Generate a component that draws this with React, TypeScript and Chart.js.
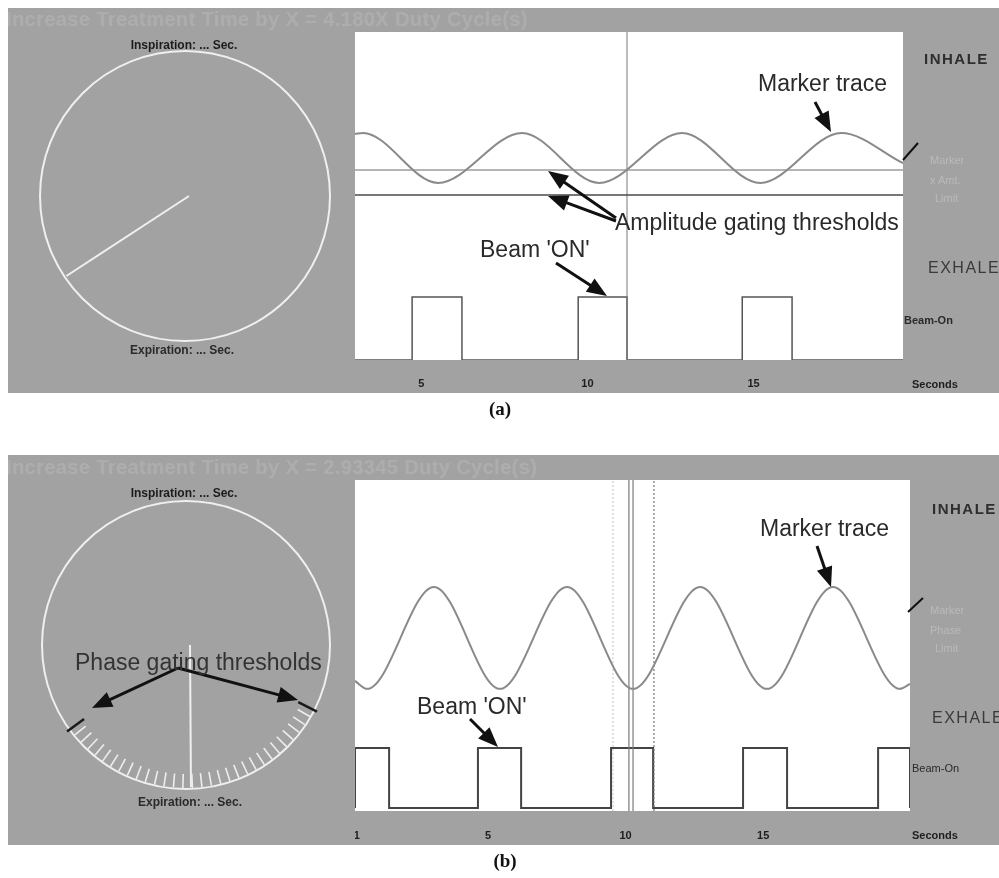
import React, { useEffect, useRef } from "react";
import { Chart, registerables } from "chart.js";
Chart.register(...registerables);

// ---------------- Panel (a): amplitude gating ----------------
const secondsTicksA = [5, 10, 15];
const secondsLabelsA = ["5", "10", "15"];
const traceTimeA = [3.0, 3.24, 5.5, 8.03, 10.35, 12.85, 15.2, 17.64, 19.5];
const traceLevelA = [68.9, 69.2, 54.0, 69.2, 54.0, 69.2, 54.0, 69.2, 60.0];
const thresholdUpperA = 57.9;
const thresholdLowerA = 50.3;
const beamOnStartA = [4.72, 9.72, 14.66];
const beamOnEndA = [6.22, 11.19, 16.16];
const beamOnLevelA = 19.2;
const beamOffLevelA = 0;
const cursorTimeA = 11.19;
const xRangeA = [3.0, 19.5];

// ---------------- Panel (b): phase gating ----------------
const secondsTicksB = [0.23, 5, 10, 15];
const secondsLabelsB = ["1", "5", "10", "15"];
const traceTimeB = [0.16, 0.6, 3.03, 5.43, 7.87, 10.27, 12.71, 15.14, 17.54, 19.98, 20.34];
const traceLevelB = [39.3, 36.9, 67.7, 36.9, 67.7, 36.9, 67.7, 36.9, 67.7, 36.9, 38.4];
const beamOnStartB = [0.16, 4.63, 9.47, 14.27, 19.18];
const beamOnEndB = [1.4, 6.2, 11.0, 15.87, 20.34];
const beamOnLevelB = 19.0;
const beamOffLevelB = 0.9;
const cursorSolidB = [10.12, 10.27];
const cursorDottedLightB = 9.54;
const cursorDottedDarkB = 11.03;
const xRangeB = [0.16, 20.34];

// ---------------- Dials ----------------
const dialPointerAngleA = 146;
const dialPointerAngleB = 88;
const phaseThresholdAnglesB = [144, 27];
const dialTickRangeB = [30, 141];
const dialTickCountB = 30;

const GRAY = "#a2a2a2";
const SANS = "'Liberation Sans', Arial, sans-serif";

type Pt = { x: number; y: number };

function beamPoints(starts: number[], ends: number[], on: number, off: number, xMin: number, xMax: number): Pt[] {
  const pts: Pt[] = [];
  if (starts[0] > xMin) pts.push({ x: xMin, y: off });
  starts.forEach((s, i) => {
    const e = ends[i];
    pts.push({ x: s, y: off });
    pts.push({ x: s, y: on });
    pts.push({ x: e, y: on });
    pts.push({ x: e, y: off });
  });
  if (ends[ends.length - 1] < xMax) pts.push({ x: xMax, y: off });
  return pts;
}

const whiteArea = {
  id: "whiteArea",
  beforeDraw(chart: any) {
    const { ctx, chartArea: a } = chart;
    ctx.save();
    ctx.fillStyle = "#ffffff";
    ctx.fillRect(a.left, a.top, a.right - a.left, a.bottom - a.top);
    ctx.restore();
  },
};

type TraceProps = {
  left: number; top: number; width: number; height: number;
  axisHeight: number; tickPadding: number;
  xRange: number[]; ticks: number[]; labels: string[];
  datasets: any[];
};

function TraceChart(p: TraceProps) {
  const ref = useRef<HTMLCanvasElement | null>(null);
  useEffect(() => {
    if (!ref.current) return;
    const chart = new Chart(ref.current, {
      type: "line",
      data: { datasets: p.datasets },
      options: {
        responsive: false,
        animation: false,
        events: [],
        layout: { padding: 0 },
        plugins: { legend: { display: false }, tooltip: { enabled: false }, title: { display: false } },
        elements: { point: { radius: 0 } },
        scales: {
          x: {
            type: "linear",
            min: p.xRange[0],
            max: p.xRange[1],
            grid: { display: false, drawTicks: false },
            border: { display: false },
            afterBuildTicks: (scale: any) => {
              scale.ticks = p.ticks.map((v) => ({ value: v }));
            },
            afterFit: (scale: any) => {
              scale.height = p.axisHeight;
              scale.paddingLeft = 0;
              scale.paddingRight = 0;
            },
            ticks: {
              autoSkip: false,
              maxRotation: 0,
              padding: p.tickPadding,
              color: "#1e1e1e",
              font: { family: SANS, size: 11, weight: "bold" },
              callback: (v: any) => {
                const i = p.ticks.indexOf(Number(v));
                return i >= 0 ? p.labels[i] : "";
              },
            },
          },
          y: { display: false, min: 0, max: 100 },
        },
      } as any,
      plugins: [whiteArea],
    });
    return () => chart.destroy();
  }, []);
  return (
    <canvas
      ref={ref}
      width={p.width}
      height={p.height}
      style={{ position: "absolute", left: p.left, top: p.top, width: p.width, height: p.height }}
    />
  );
}

function line(x: number, y0: number, y1: number): Pt[] {
  return [{ x, y: y0 }, { x, y: y1 }];
}

const datasetsA = [
  {
    data: traceTimeA.map((t, i) => ({ x: t, y: traceLevelA[i] })),
    borderColor: "#8a8a8a", borderWidth: 2, cubicInterpolationMode: "monotone", pointRadius: 0,
  },
  { data: [{ x: xRangeA[0], y: thresholdUpperA }, { x: xRangeA[1], y: thresholdUpperA }], borderColor: "#9c9c9c", borderWidth: 1.5, pointRadius: 0 },
  { data: [{ x: xRangeA[0], y: thresholdLowerA }, { x: xRangeA[1], y: thresholdLowerA }], borderColor: "#4a4a4a", borderWidth: 1.5, pointRadius: 0 },
  { data: line(cursorTimeA, 0, 100), borderColor: "#7a7a7a", borderWidth: 1, pointRadius: 0 },
  {
    data: beamPoints(beamOnStartA, beamOnEndA, beamOnLevelA, beamOffLevelA, xRangeA[0], xRangeA[1]),
    borderColor: "#555", borderWidth: 1.5, pointRadius: 0, tension: 0,
  },
];

const datasetsB = [
  {
    data: traceTimeB.map((t, i) => ({ x: t, y: traceLevelB[i] })),
    borderColor: "#8a8a8a", borderWidth: 2, cubicInterpolationMode: "monotone", pointRadius: 0,
  },
  { data: line(cursorDottedLightB, 0, 100), borderColor: "#c4c4c4", borderWidth: 1, borderDash: [2, 2], pointRadius: 0 },
  { data: line(cursorDottedDarkB, 0, 100), borderColor: "#777", borderWidth: 1.2, borderDash: [2, 2], pointRadius: 0 },
  ...cursorSolidB.map((c) => ({ data: line(c, 0, 100), borderColor: "#7a7a7a", borderWidth: 1.2, pointRadius: 0 })),
  {
    data: beamPoints(beamOnStartB, beamOnEndB, beamOnLevelB, beamOffLevelB, xRangeB[0], xRangeB[1]),
    borderColor: "#444", borderWidth: 2, pointRadius: 0, tension: 0,
  },
];

function Arrow({ x1, y1, x2, y2, hl = 20, hw = 16, sw = 3 }: any) {
  const dx = x2 - x1, dy = y2 - y1, L = Math.hypot(dx, dy);
  const ux = dx / L, uy = dy / L;
  const bx = x2 - ux * hl, by = y2 - uy * hl;
  const px = -uy, py = ux;
  return (
    <g>
      <line x1={x1} y1={y1} x2={bx + ux * 2} y2={by + uy * 2} stroke="#111" strokeWidth={sw} />
      <polygon points={`${x2},${y2} ${bx + (px * hw) / 2},${by + (py * hw) / 2} ${bx - (px * hw) / 2},${by - (py * hw) / 2}`} fill="#111" />
    </g>
  );
}

function polar(cx: number, cy: number, r: number, deg: number) {
  const a = (deg * Math.PI) / 180;
  return [cx + r * Math.cos(a), cy + r * Math.sin(a)];
}

function Dial({ cx, cy, r, pointer, ticks, thresholds }: any) {
  const [px, py] = polar(cx, cy, r - 2, pointer);
  const tickEls: any[] = [];
  if (ticks) {
    const [a0, a1] = dialTickRangeB;
    for (let i = 0; i < dialTickCountB; i++) {
      const a = a0 + ((a1 - a0) * i) / (dialTickCountB - 1);
      const [x1, y1] = polar(cx, cy, r - 1, a);
      const [x2, y2] = polar(cx, cy, r - 15, a);
      tickEls.push(<line key={i} x1={x1} y1={y1} x2={x2} y2={y2} stroke="#ededed" strokeWidth={1.6} />);
    }
  }
  const thr = (thresholds || []).map((a: number, i: number) => {
    const [x1, y1] = polar(cx, cy, r + 3, a);
    const [x2, y2] = polar(cx, cy, r - 18, a);
    return <line key={"t" + i} x1={x1} y1={y1} x2={x2} y2={y2} stroke="#1a1a1a" strokeWidth={2.5} />;
  });
  return (
    <g>
      <circle cx={cx} cy={cy} r={r} fill="none" stroke="#efefef" strokeWidth={2} />
      <line x1={cx + 4} y1={cy} x2={px} y2={py} stroke="#efefef" strokeWidth={2} />
      {tickEls}
      {thr}
    </g>
  );
}

function Txt({ x, y, children, size = 23, weight = "normal", color = "#2a2a2a", family = SANS, center = false, spacing = 0 }: any) {
  return (
    <div
      style={{
        position: "absolute", left: x, top: y, transform: center ? "translate(-50%,-50%)" : "translateY(-50%)",
        fontFamily: family, fontSize: size, fontWeight: weight, color, lineHeight: 1, whiteSpace: "nowrap",
        letterSpacing: spacing,
      }}
    >
      {children}
    </div>
  );
}

export default function App() {
  return (
    <div style={{ position: "absolute", left: 0, top: 0, width: 999, height: 878, background: "#fff", overflow: "hidden" }}>
      {/* gray panels */}
      <div style={{ position: "absolute", left: 8, top: 8, width: 991, height: 385, background: GRAY }} />
      <div style={{ position: "absolute", left: 8, top: 455, width: 991, height: 390, background: GRAY }} />

      {/* title strips */}
      <Txt x={6} y={19} size={20} weight="bold" spacing={0.4} color="rgba(255,255,255,0.15)">Increase Treatment Time by X = 4.180X Duty Cycle(s)</Txt>
      <Txt x={6} y={467} size={20} weight="bold" spacing={0.4} color="rgba(255,255,255,0.15)">Increase Treatment Time by X = 2.93345 Duty Cycle(s)</Txt>

      <TraceChart left={355} top={32} width={548} height={360} axisHeight={32} tickPadding={17}
        xRange={xRangeA} ticks={secondsTicksA} labels={secondsLabelsA} datasets={datasetsA} />
      <TraceChart left={355} top={480} width={555} height={365} axisHeight={34} tickPadding={18}
        xRange={xRangeB} ticks={secondsTicksB} labels={secondsLabelsB} datasets={datasetsB} />

      <svg width={999} height={878} style={{ position: "absolute", left: 0, top: 0, pointerEvents: "none" }}>
        <Dial cx={185} cy={196} r={145} pointer={dialPointerAngleA} />
        <Dial cx={186} cy={645} r={144} pointer={dialPointerAngleB} ticks thresholds={phaseThresholdAnglesB} />
        {/* gauge marks at right */}
        <line x1={903} y1={160} x2={918} y2={143} stroke="#111" strokeWidth={2} />
        <line x1={908} y1={612} x2={923} y2={598} stroke="#111" strokeWidth={2} />
        {/* (a) arrows */}
        <Arrow x1={815} y1={102} x2={831} y2={132} />
        <Arrow x1={616} y1={218} x2={548} y2={171} />
        <Arrow x1={616} y1={221} x2={548} y2={196} />
        <Arrow x1={556} y1={263} x2={607} y2={296} />
        {/* (b) arrows */}
        <Arrow x1={817} y1={546} x2={831} y2={587} />
        <Arrow x1={470} y1={719} x2={498} y2={747} />
        <Arrow x1={178} y1={668} x2={92} y2={708} />
        <Arrow x1={178} y1={668} x2={298} y2={700} />
      </svg>

      {/* dial labels */}
      <Txt x={184} y={45} size={12} weight="bold" color="#1c1c1c" center>Inspiration: ... Sec.</Txt>
      <Txt x={182} y={350} size={12} weight="bold" color="#2a2a2a" center>Expiration: ... Sec.</Txt>
      <Txt x={184} y={493} size={12} weight="bold" color="#1c1c1c" center>Inspiration: ... Sec.</Txt>
      <Txt x={190} y={802} size={12} weight="bold" color="#2a2a2a" center>Expiration: ... Sec.</Txt>

      {/* right side labels (a) */}
      <Txt x={924} y={58} size={15} weight="bold" color="#2e2e2e" spacing={1.5}>INHALE</Txt>
      <Txt x={928} y={268} size={16} color="#3a3a3a" spacing={1.5}>EXHALE</Txt>
      <Txt x={904} y={320} size={11} weight="bold" color="#2a2a2a">Beam-On</Txt>
      <Txt x={930} y={160} size={11} color="rgba(255,255,255,0.25)">Marker</Txt>
      <Txt x={930} y={180} size={11} color="rgba(255,255,255,0.25)">x Amt.</Txt>
      <Txt x={935} y={198} size={11} color="rgba(255,255,255,0.25)">Limit</Txt>
      <Txt x={912} y={384} size={11} weight="bold" color="#1e1e1e">Seconds</Txt>

      {/* right side labels (b) */}
      <Txt x={932} y={508} size={15} weight="bold" color="#2e2e2e" spacing={1.5}>INHALE</Txt>
      <Txt x={932} y={718} size={16} color="#3a3a3a" spacing={1.5}>EXHALE</Txt>
      <Txt x={912} y={768} size={11} color="#2a2a2a">Beam-On</Txt>
      <Txt x={930} y={610} size={11} color="rgba(255,255,255,0.25)">Marker</Txt>
      <Txt x={930} y={630} size={11} color="rgba(255,255,255,0.25)">Phase</Txt>
      <Txt x={935} y={648} size={11} color="rgba(255,255,255,0.25)">Limit</Txt>
      <Txt x={912} y={835} size={11} weight="bold" color="#1e1e1e">Seconds</Txt>

      {/* annotations (a) */}
      <Txt x={758} y={83} size={23}>Marker trace</Txt>
      <Txt x={615} y={222} size={23}>Amplitude gating thresholds</Txt>
      <Txt x={480} y={249} size={23}>Beam 'ON'</Txt>
      {/* annotations (b) */}
      <Txt x={760} y={528} size={23}>Marker trace</Txt>
      <Txt x={417} y={706} size={23}>Beam 'ON'</Txt>
      <Txt x={75} y={662} size={23} color="#333">Phase gating thresholds</Txt>

      {/* panel letters */}
      <Txt x={500} y={408} size={19} weight="bold" color="#111" family="'Liberation Serif', 'Times New Roman', serif" center>(a)</Txt>
      <Txt x={505} y={860} size={19} weight="bold" color="#111" family="'Liberation Serif', 'Times New Roman', serif" center>(b)</Txt>
    </div>
  );
}
